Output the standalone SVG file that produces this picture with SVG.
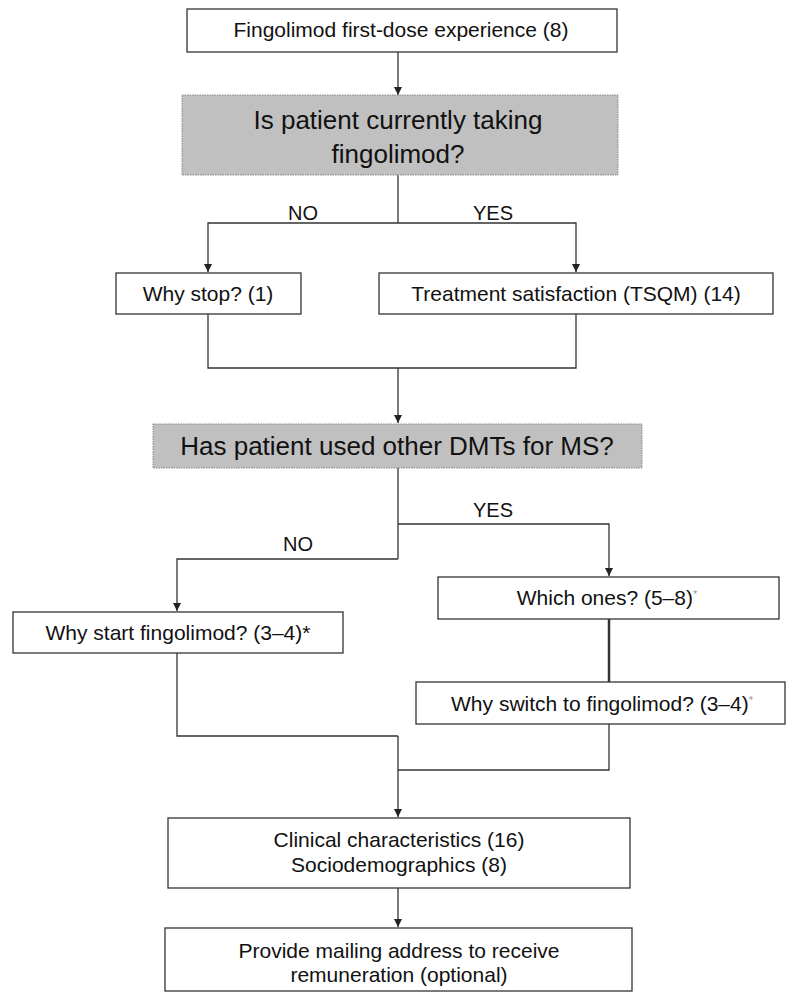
<svg xmlns="http://www.w3.org/2000/svg" width="795" height="992" viewBox="0 0 795 992">
<style>
.box{fill:#fff;stroke:#333;stroke-width:1.3}
.q{fill:#c0c0c0;stroke:#888;stroke-width:1;stroke-dasharray:1.5 1}
.t{font-family:"Liberation Sans",Arial,sans-serif;font-size:21px;fill:#111;text-anchor:middle}
.big{font-family:"Liberation Sans",Arial,sans-serif;font-size:26px;fill:#111;text-anchor:middle}
.lbl{font-family:"Liberation Sans",Arial,sans-serif;font-size:20px;fill:#111;text-anchor:middle}
.c{fill:none;stroke:#333;stroke-width:1.3}
.ast{font-size:11px;fill:#999}
</style>
<defs>
<marker id="ah" viewBox="0 0 10 10" refX="10" refY="5" markerWidth="8" markerHeight="8" markerUnits="userSpaceOnUse" orient="auto">
<path d="M0,0 L10,5 L0,10 z" fill="#222"/>
</marker>
</defs>
<g id="connectors">
<path class="c" d="M398,52 V95" marker-end="url(#ah)"/>
<path class="c" d="M398,175 V223"/>
<path class="c" d="M398,223 H208 V272" marker-end="url(#ah)"/>
<path class="c" d="M398,223 H576 V272" marker-end="url(#ah)"/>
<path class="c" d="M208,314 V368 H576 V314"/>
<path class="c" d="M398,368 V423" marker-end="url(#ah)"/>
<path class="c" d="M398,468 V559"/>
<path class="c" d="M398,524 H609 V576" marker-end="url(#ah)"/>
<path class="c" d="M398,559 H177 V611" marker-end="url(#ah)"/>
<path d="M609,619 V682" fill="none" stroke="#333" stroke-width="2.5"/>
<path class="c" d="M177,653 V736 H398"/>
<path class="c" d="M609,724 V770 H398"/>
<path class="c" d="M398,736 V817" marker-end="url(#ah)"/>
<path class="c" d="M398,888 V927" marker-end="url(#ah)"/>
<text class="lbl" x="303" y="220">NO</text>
<text class="lbl" x="493" y="220">YES</text>
<text class="lbl" x="493" y="517">YES</text>
<text class="lbl" x="298" y="551">NO</text>
</g>
<g id="n1"><rect class="box" x="187" y="9" width="430" height="43"/><text class="t" x="401" y="37">Fingolimod first-dose experience (8)</text></g>
<g id="n2"><rect class="q" x="182" y="95" width="436" height="80"/><text class="big" x="398" y="129">Is patient currently taking</text><text class="big" x="398" y="163">fingolimod?</text></g>
<g id="n3"><rect class="box" x="116" y="273" width="185" height="41"/><text class="t" x="208" y="301">Why stop? (1)</text></g>
<g id="n4"><rect class="box" x="379" y="273" width="394" height="41"/><text class="t" x="576" y="301">Treatment satisfaction (TSQM) (14)</text></g>
<g id="n5"><rect class="q" x="153" y="424" width="489" height="44"/><text class="big" x="397" y="455">Has patient used other DMTs for MS?</text></g>
<g id="n6"><rect class="box" x="438" y="577" width="341" height="42"/><text class="t" x="607" y="605">Which ones? (5–8)<tspan class="ast" dy="-7">*</tspan></text></g>
<g id="n7"><rect class="box" x="13" y="612" width="330" height="41"/><text class="t" x="178" y="640">Why start fingolimod? (3–4)*</text></g>
<g id="n8"><rect class="box" x="416" y="682" width="369" height="42"/><text class="t" x="602" y="711">Why switch to fingolimod? (3–4)<tspan class="ast" dy="-7">*</tspan></text></g>
<g id="n9"><rect class="box" x="168" y="818" width="462" height="70"/><text class="t" x="399" y="847">Clinical characteristics (16)</text><text class="t" x="399" y="872">Sociodemographics (8)</text></g>
<g id="n10"><rect class="box" x="165" y="928" width="467" height="63"/><text class="t" x="399" y="958">Provide mailing address to receive</text><text class="t" x="399" y="982">remuneration (optional)</text></g>
</svg>
